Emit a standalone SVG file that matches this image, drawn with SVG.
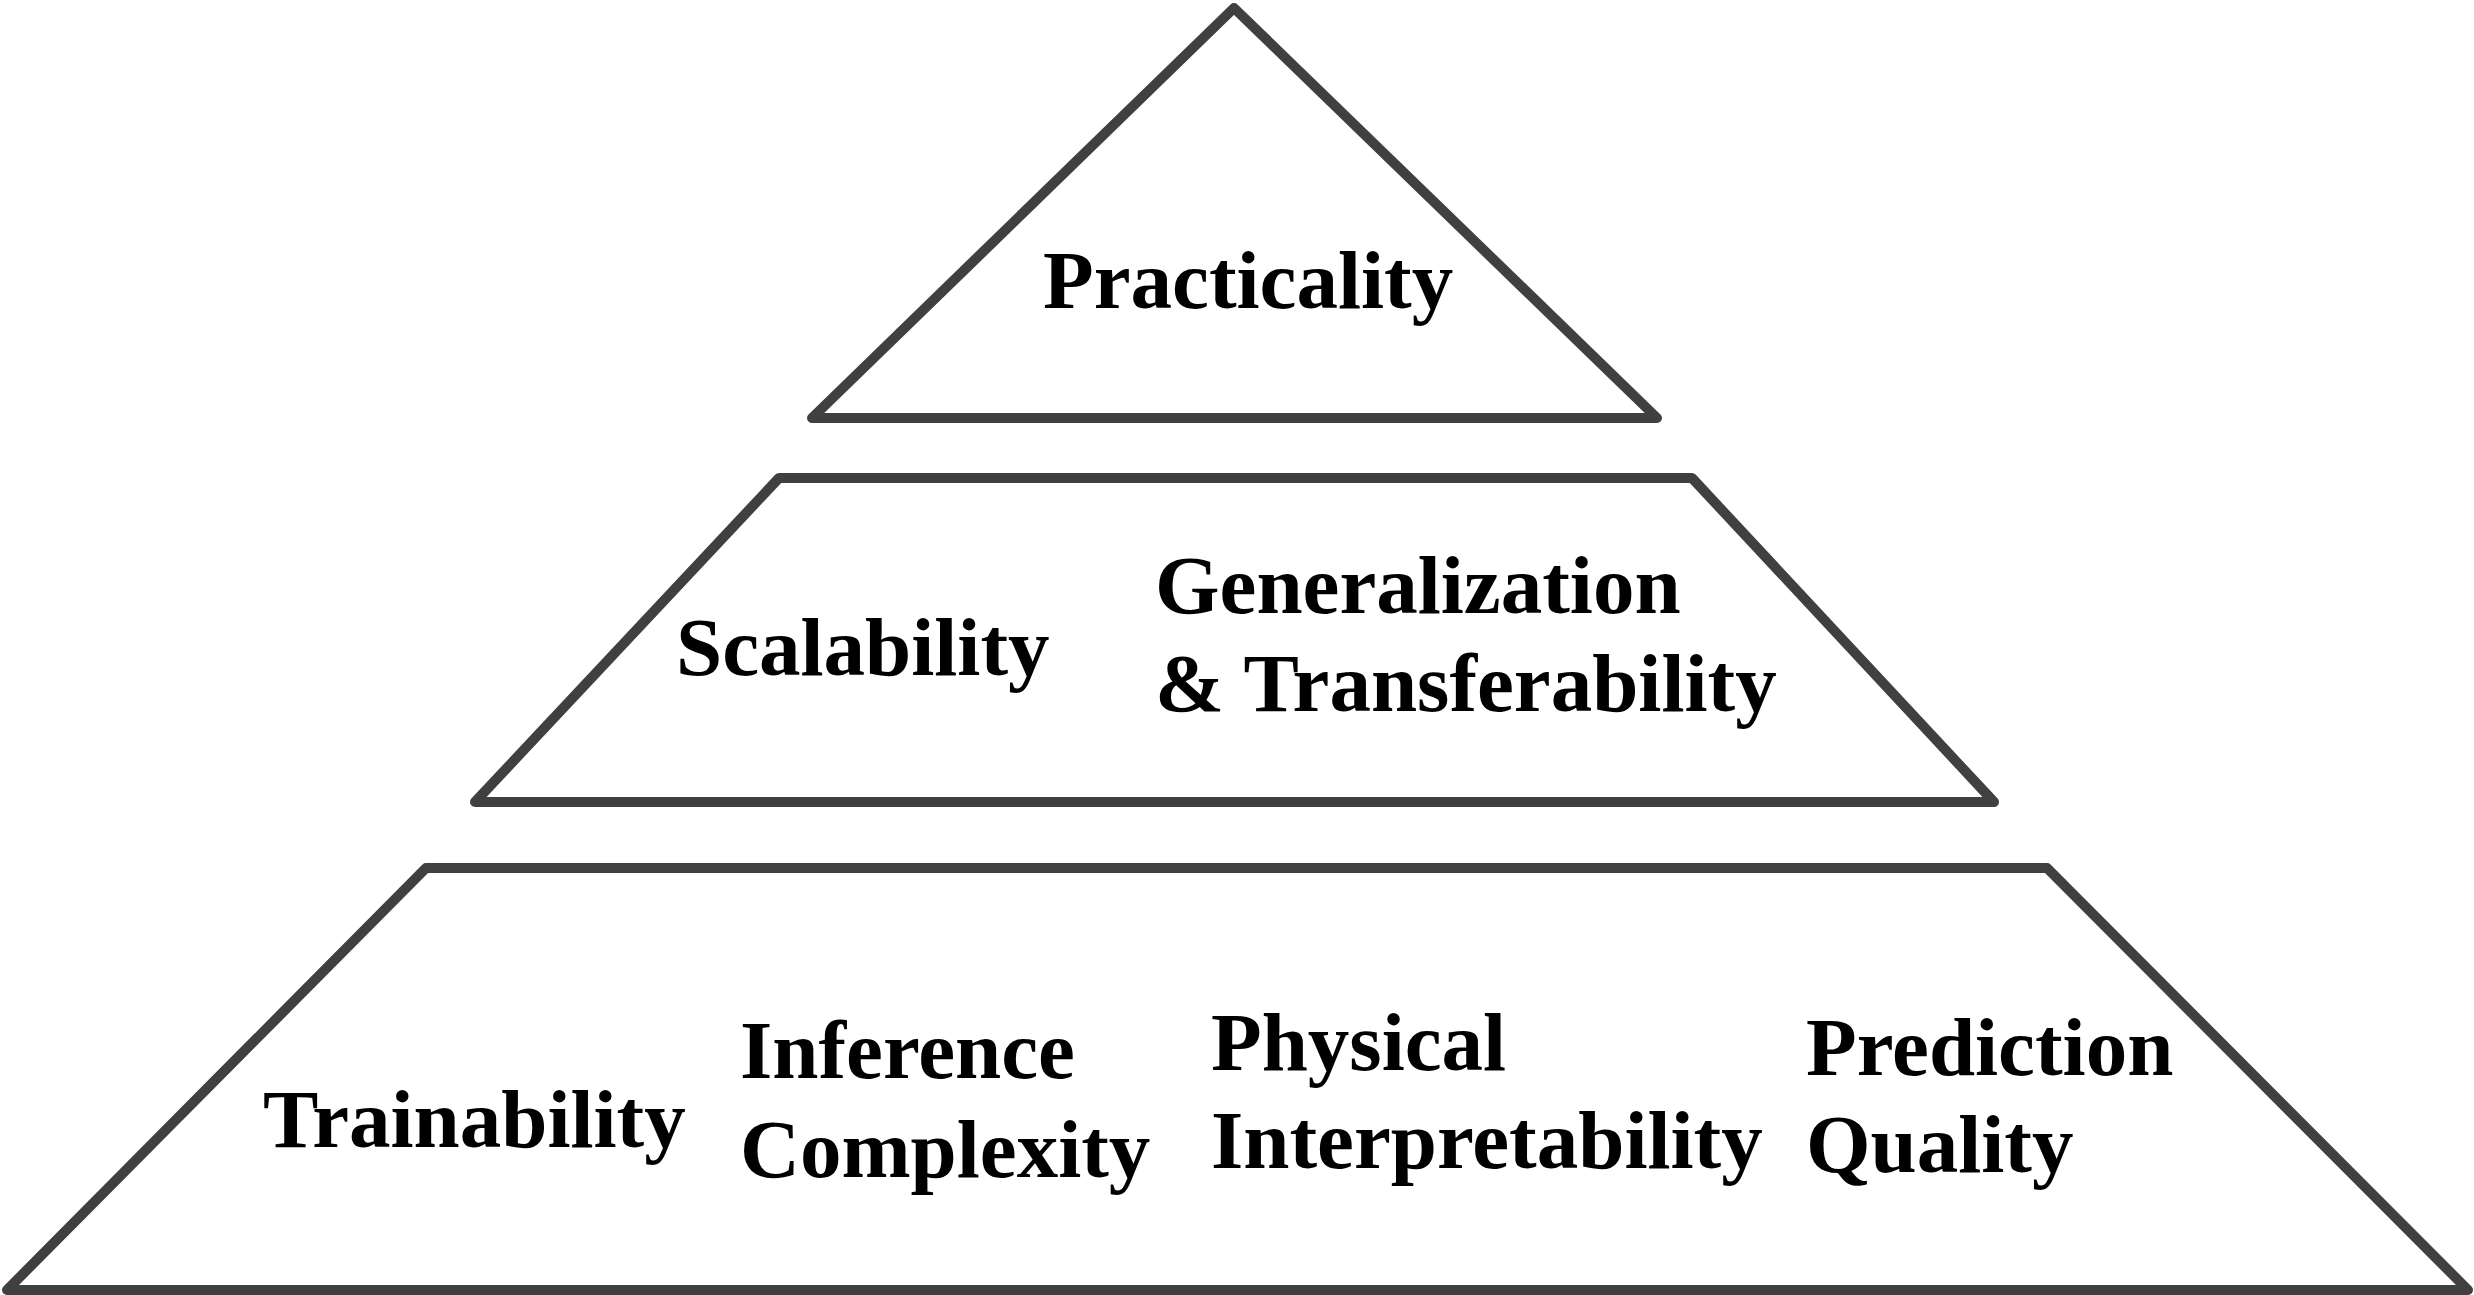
<svg xmlns="http://www.w3.org/2000/svg" width="2474" height="1295" viewBox="0 0 2474 1295">
<style>
.shape{fill:#ffffff;stroke:#404040;stroke-width:10;stroke-linejoin:round}
.lbl{font-family:"Liberation Serif","Times New Roman",serif;font-weight:bold;font-size:83px;fill:#000000}
</style>
<rect width="2474" height="1295" fill="#ffffff"/>
<g id="connectors"></g>
<g id="top-level">
<polygon class="shape" points="1234,8 812,418 1657,418"/>
<text class="lbl" x="1043" y="308">Practicality</text>
</g>
<g id="middle-level">
<polygon class="shape" points="779,478 1692,478 1994,802 475,802"/>
<text class="lbl" x="676" y="675">Scalability</text>
<text class="lbl" x="1155" y="613">Generalization</text>
<text class="lbl" x="1155" y="711">&amp; Transferability</text>
</g>
<g id="bottom-level">
<polygon class="shape" points="426,868 2047,868 2468,1290 7,1290"/>
<text class="lbl" x="263" y="1147">Trainability</text>
<text class="lbl" x="740" y="1078">Inference</text>
<text class="lbl" x="740" y="1177">Complexity</text>
<text class="lbl" x="1211" y="1070">Physical</text>
<text class="lbl" x="1211" y="1168">Interpretability</text>
<text class="lbl" x="1806" y="1075">Prediction</text>
<text class="lbl" x="1806" y="1172">Quality</text>
</g>
</svg>
